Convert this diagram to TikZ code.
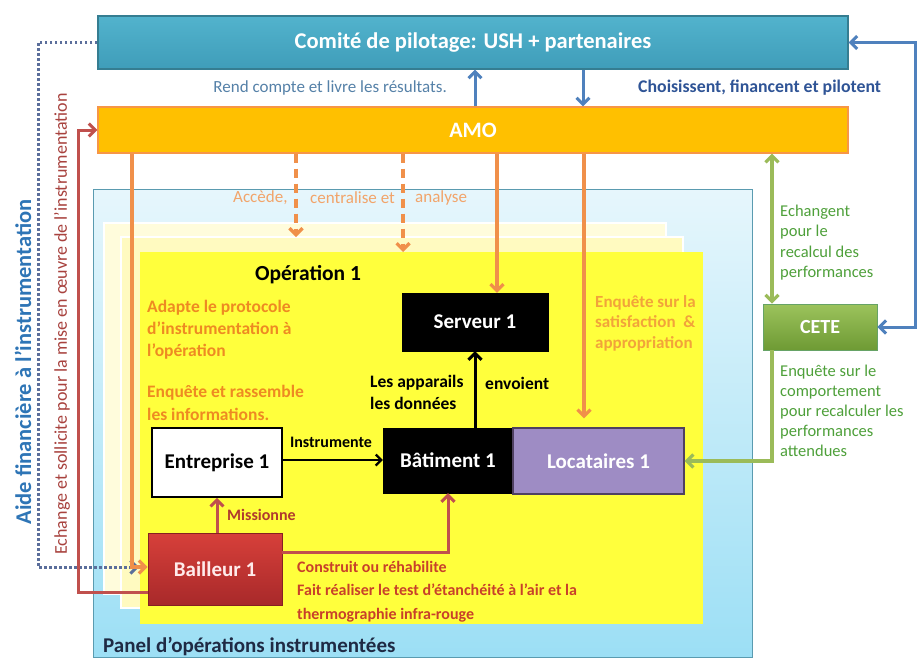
\documentclass[tikz,border=0pt]{standalone}
\usepackage{fontspec}
\setmainfont{Carlito}
\usetikzlibrary{arrows.meta,calc}

\definecolor{comtop}{HTML}{52B3CD}
\definecolor{combot}{HTML}{3F9DB9}
\definecolor{comdraw}{HTML}{357D91}
\definecolor{amofill}{HTML}{FFC000}
\definecolor{amodraw}{HTML}{F79646}
\definecolor{bluearr}{HTML}{4F81BD}
\definecolor{dotblue}{HTML}{5B6E9B}
\definecolor{orangearr}{HTML}{F0904A}
\definecolor{redarr}{HTML}{C0504D}
\definecolor{greenarr}{HTML}{9BBB59}
\definecolor{rendblue}{HTML}{5581A8}
\definecolor{choisblue}{HTML}{2F5496}
\definecolor{aideblue}{HTML}{2E75B6}
\definecolor{echred}{HTML}{A8423E}
\definecolor{accorange}{HTML}{F2A46A}
\definecolor{adaorange}{HTML}{EE8A22}
\definecolor{enqorange}{HTML}{F2A33A}
\definecolor{greentext}{HTML}{4EA03A}
\definecolor{missred}{HTML}{B03A2E}
\definecolor{consred}{HTML}{C8402A}
\definecolor{panelnavy}{HTML}{1F2A44}
\definecolor{paneltop}{HTML}{E6F6FC}
\definecolor{panelbot}{HTML}{9CDFF5}
\definecolor{paneldraw}{HTML}{5A9BB0}
\definecolor{sheetback}{HTML}{FFFCDC}
\definecolor{sheetmid}{HTML}{FFFAC0}
\definecolor{sheetfront}{HTML}{FFFF3C}
\definecolor{locfill}{HTML}{9E8CC4}
\definecolor{locdraw}{HTML}{4F4060}
\definecolor{bailtop}{HTML}{D7403A}
\definecolor{bailbot}{HTML}{A8292A}
\definecolor{cetetop}{HTML}{9CC35C}
\definecolor{cetebot}{HTML}{6E9A34}

\newcommand\setfs[2]{\fontsize{#1}{#2}\selectfont}

\tikzset{
  box/.style={draw, inner sep=0pt, font=\bfseries\setfs{21}{25}},
  barb/.style={-{Straight Barb[length=6.5pt,width=13pt]}},
  dbarb/.style={{Straight Barb[length=6.5pt,width=13pt]}-{Straight Barb[length=6.5pt,width=13pt]}},
  bluelink/.style={draw=bluearr, line width=3pt},
  orlink/.style={draw=orangearr, line width=3.2pt},
  ordash/.style={orlink, dash pattern=on 9pt off 6pt},
  redlink/.style={draw=redarr, line width=3pt},
  greenlink/.style={draw=greenarr, line width=3.2pt},
  dotlink/.style={draw=dotblue, line width=3pt, dash pattern=on 2.5pt off 2.5pt},
  lbl/.style={inner sep=0pt, font=\setfs{17}{20}},
  blbl/.style={inner sep=0pt, font=\bfseries\setfs{17}{20}},
}

\begin{document}
\begin{tikzpicture}[x=1pt,y=-1pt]
\path[use as bounding box, fill=white] (0,0) rectangle (917,659);

% panel of instrumented operations and the stack of operation sheets
\node[draw=paneldraw, line width=0.8pt, top color=paneltop, bottom color=panelbot,
      minimum width=659, minimum height=468, inner sep=0pt, anchor=north west] (panel) at (93,189) {};
\node[fill=sheetback, draw=white, line width=1.5pt, minimum width=562, minimum height=371,
      inner sep=0pt, anchor=north west] (sheet3) at (103,222) {};
\node[fill=sheetmid, draw=white, line width=1.5pt, minimum width=562, minimum height=371,
      inner sep=0pt, anchor=north west] (sheet2) at (120,236) {};
\node[fill=sheetfront, minimum width=563, minimum height=372,
      inner sep=0pt, anchor=north west] (sheet1) at (140,252) {};

% top-level boxes
\node[box, draw=comdraw, line width=1.2pt, top color=comtop, bottom color=combot, text=white,
      minimum width=750, minimum height=53, font=\bfseries\setfs{22.5}{26}] (com) at (473,42.5)
      {Comité de pilotage: USH + partenaires};
\node[box, draw=amodraw, line width=1.2pt, fill=amofill, text=white,
      minimum width=750, minimum height=46, font=\bfseries\setfs{22}{26}] (amo) at (473,130) {AMO};
\node[box, draw=green!40!black!60, line width=0.8pt, top color=cetetop, bottom color=cetebot,
      text=white, minimum width=114, minimum height=46, font=\bfseries\setfs{20}{24}] (cete) at (820,327) {CETE};

% operation boxes
\node[box, fill=black, text=white, minimum width=146, minimum height=58] (serv) at (475,322) {Serveur 1};
\node[box, fill=black, text=white, minimum width=130, minimum height=65] (bat) at (448,460.5) {Bâtiment 1};
\node[box, draw=locdraw, line width=1.4pt, fill=locfill, text=white,
      minimum width=171, minimum height=66] (loc) at (598.5,461) {Locataires 1};
\node[box, fill=white, line width=1.6pt, minimum width=130, minimum height=69] (ent) at (217,462.5) {Entreprise 1};
\node[box, draw=bailbot!80!black, line width=0.8pt, top color=bailtop, bottom color=bailbot,
      text=white!92!red, minimum width=134, minimum height=72] (bail) at (215,569) {Bailleur 1};

% helper coordinates for connector columns and corners
\coordinate (up) at (475,0);
\coordinate (down) at (583,0);
\coordinate (d1) at (296,237);
\coordinate (d2) at (403,252);
\coordinate (s1) at (497,0);
\coordinate (s2) at (584,0);
\coordinate (g) at (772,0);
\coordinate (rcor) at (915,327);
\coordinate (dl) at (38,567);
\coordinate (dle) at (139,567);
\coordinate (ol) at (132,567);
\coordinate (rl) at (78,592);

% steering committee <-> AMO
\draw[bluelink, barb] (up |- amo.north) -- (up |- com.south);
\draw[bluelink, barb] (down |- com.south) -- (down |- amo.north);
\draw[bluelink, dbarb] (com.east) -| (rcor) -- (cete.east);

% financial support (dotted) and AMO exchanges with the landlord
\draw[dotlink, -{Straight Barb[length=6.5pt,width=13pt]}] (com.west) -| (dl) -- (dle);
\draw[orlink, barb] (ol |- amo.south) -- (ol) -- (bail.west |- ol);
\draw[redlink, barb] (bail.west |- rl) -- (rl) |- (amo.west);

% AMO towards the operations
\draw[ordash, barb] (d1 |- amo.south) -- (d1);
\draw[ordash, barb] (d2 |- amo.south) -- (d2);
\draw[orlink, barb] (s1 |- amo.south) -- (s1 |- serv.north);
\draw[orlink, barb, shorten >=9pt] (s2 |- amo.south) -- (s2 |- loc.north);

% CETE
\draw[greenlink, dbarb] (g |- amo.south) -- (g |- cete.north);
\draw[greenlink, barb] (g |- cete.south) |- (loc.east);

% inside the operation
\draw[line width=3pt, barb] (bat.north -| serv.south) -- (serv.south);
\draw[line width=2.2pt, -{Straight Barb[length=5.5pt,width=11pt]}] (ent.east |- 0,460) -- (bat.west |- 0,460);
\draw[redlink, barb] (bail.north -| ent.south) -- (ent.south);
\draw[redlink, barb] ($(bail.east)+(0,-17)$) -| (bat.south);

% texts
\node[lbl, text=rendblue, anchor=east] (trend) at (447,88) {Rend compte et livre les résultats.};
\node[blbl, text=choisblue, anchor=west, font=\bfseries\setfs{17.8}{20}] (tchois) at (638,88) {Choisissent, financent et pilotent};
\node[inner sep=0pt, rotate=90, text=aideblue, font=\bfseries\setfs{22.5}{26}] (taide) at (23,362)
      {Aide financière à l'instrumentation};
\node[inner sep=0pt, rotate=90, text=echred, font=\setfs{18}{21}] (tech) at (62,324)
      {Echange et sollicite pour la mise en œuvre de l'instrumentation};
\node[lbl, text=accorange, anchor=west] (tacc1) at (233,198) {Accède,};
\node[lbl, text=accorange, anchor=west] (tacc2) at (310,198) {centralise et};
\node[lbl, text=accorange, anchor=west] (tacc3) at (415,198) {analyse};
\node[inner sep=0pt, font=\bfseries\setfs{21.5}{25}] (top1) at (308,275) {Opération 1};
\node[blbl, text=adaorange, align=left, anchor=north west, font=\bfseries\setfs{17.5}{22}] (tada) at (147,300)
      {Adapte le protocole\\d'instrumentation à\\l'opération};
\node[blbl, text=adaorange, align=left, anchor=north west, font=\bfseries\setfs{17.5}{23}] (tenq) at (147,385)
      {Enquête et rassemble\\les informations.};
\node[blbl, align=left, anchor=north west, font=\bfseries\setfs{17.5}{22}] (tapp) at (370,375)
      {Les apparails\\les données};
\node[blbl, anchor=west, font=\bfseries\setfs{17.5}{22}] (tenv) at (485,383) {envoient};
\node[blbl, text=enqorange, align=left, anchor=north west, font=\bfseries\setfs{17}{20.5}] (tsat) at (595,295)
      {Enquête sur la\\satisfaction \ \&\\appropriation};
\node[lbl, text=greentext, align=left, anchor=north west, font=\setfs{16.5}{20.3}] (tech2) at (780,205)
      {Echangent\\pour le\\recalcul des\\performances};
\node[lbl, text=greentext, align=left, anchor=north west, font=\setfs{16.5}{20}] (tcomp) at (780,365)
      {Enquête sur le\\comportement\\pour recalculer les\\performances\\attendues};
\node[blbl, font=\bfseries\setfs{16}{20}] (tinst) at (331,442) {Instrumente};
\node[blbl, text=missred, anchor=west, font=\bfseries\setfs{16}{20}] (tmiss) at (227,515) {Missionne};
\node[blbl, text=consred, align=left, anchor=north west, font=\bfseries\setfs{16}{23.5}] (tcons) at (297,561)
      {Construit ou réhabilite\\Fait réaliser le test d'étanchéité à l'air et la\\thermographie infra-rouge};
\node[inner sep=0pt, text=panelnavy, anchor=west, font=\bfseries\setfs{21}{25}] (tpanel) at (103,646)
      {Panel d'opérations instrumentées};
\end{tikzpicture}
\end{document}
